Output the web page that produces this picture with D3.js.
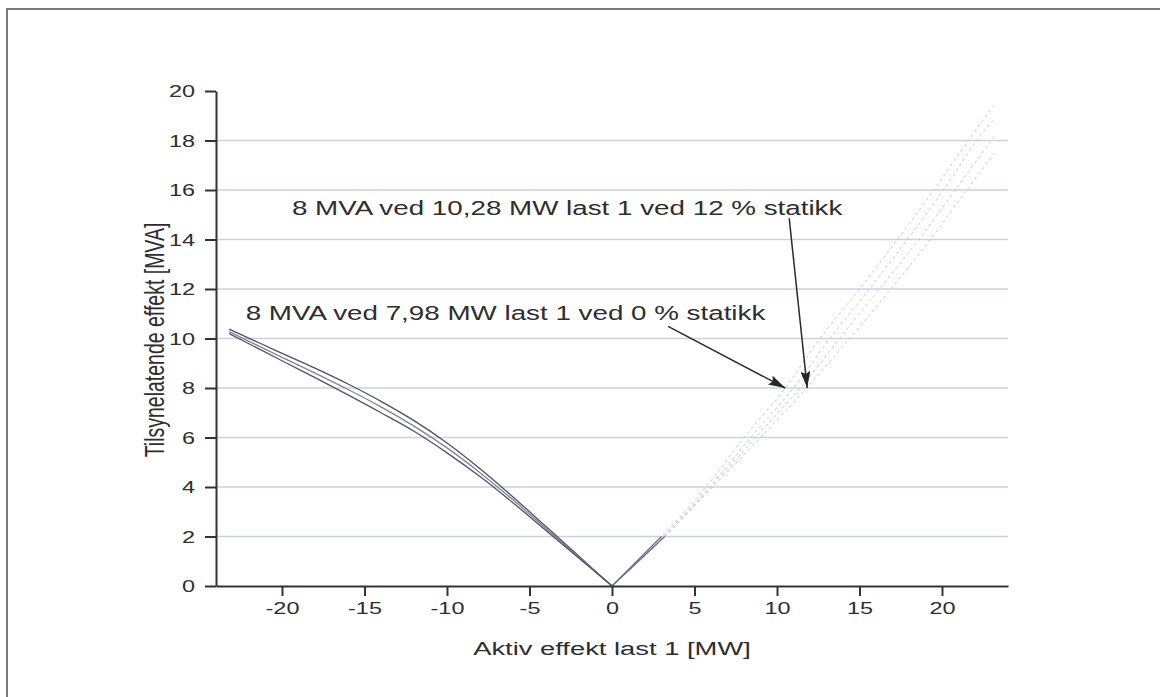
<!DOCTYPE html>
<html>
<head>
<meta charset="utf-8">
<script src="https://cdn.jsdelivr.net/npm/d3@7"></script>
<style>
  body { margin: 0; background: #fff; }
  text { font-family: "Liberation Sans", Arial, sans-serif; fill: #2e2e2e; }
</style>
</head>
<body>
<div id="chart"></div>
<script>
const width = 1160
const height = 697
const margin = {
  top: 91,
  bottom: 111,
  left: 216,
  right: 152,
}
// the scan is stretched sideways, the text has to follow
const stretch = 1.44

// Ejes
const xTicks = [-20, -15, -10, -5, 0, 5, 10, 15, 20]
const xMinor = [-22.5, -17.5, -12.5, -7.5, -2.5, 2.5, 7.5, 12.5, 17.5, 22.5]
const yTicks = [0, 2, 4, 6, 8, 10, 12, 14, 16, 18, 20]
const yMinor = [1, 3, 5, 7, 9, 11, 13, 15, 17, 19]
const xLabel = "Aktiv effekt last 1 [MW]"
const yLabel = "Tilsynelatende effekt [MVA]"

// negative load, three runs (solid)
const leftA = [[0, 0], [-2, 1.2], [-4, 2.4], [-6, 3.6], [-8, 4.74], [-10, 5.78], [-12, 6.68], [-14, 7.46], [-16, 8.16], [-18, 8.8], [-20, 9.4], [-23.2, 10.38]]
const leftB = [[0, 0], [-2, 1.16], [-4, 2.32], [-6, 3.48], [-8, 4.58], [-10, 5.58], [-12, 6.46], [-14, 7.24], [-16, 7.94], [-18, 8.6], [-20, 9.24], [-23.2, 10.28]]
const leftC = [[0, 0], [-2, 1.12], [-4, 2.24], [-6, 3.36], [-8, 4.42], [-10, 5.38], [-12, 6.25], [-14, 7.0], [-16, 7.72], [-18, 8.42], [-20, 9.1], [-23.2, 10.2]]

// positive load, four runs (faint)
const rightA = [[0, 0], [3.0, 2], [5.7, 4], [8.0, 6], [10.5, 8], [12.6, 10], [15.0, 12], [17.3, 14], [19.5, 16], [21.6, 18], [23.1, 19.4]]
const rightB = [[0, 0], [3.1, 2], [5.9, 4], [8.4, 6], [11.0, 8], [13.2, 10], [15.6, 12], [17.9, 14], [20.1, 16], [22.1, 18], [23.2, 18.9]]
const rightC = [[0, 0], [3.2, 2], [6.0, 4], [8.7, 6], [11.4, 8], [13.8, 10], [16.2, 12], [18.6, 14], [20.8, 16], [23.2, 18.2]]
const rightD = [[0, 0], [3.2, 2], [6.1, 4], [9.0, 6], [11.8, 8], [14.4, 10], [16.9, 12], [19.3, 14], [21.5, 16], [23.2, 17.5]]

// Anotaciones
const notes = ["8 MVA ved 10,28 MW last 1 ved 12 % statikk", "8 MVA ved 7,98 MW last 1 ved 0 % statikk"]
const noteAt = [[-19.4, 14.98], [-22.2, 10.74]]
const arrowFrom = [[10.74, 14.86], [3.4, 10.49]]
const arrowTo = [[11.83, 8.0], [10.5, 8.0]]

const svg = d3.select("#chart")
  .append("svg")
  .attr("width", width)
  .attr("height", height)

svg.append("defs").append("marker")
  .attr("id", "head")
  .attr("markerUnits", "userSpaceOnUse")
  .attr("viewBox", "0 -5 17 10")
  .attr("refX", 17)
  .attr("refY", 0)
  .attr("markerWidth", 17)
  .attr("markerHeight", 10)
  .attr("orient", "auto")
  .append("path")
  .attr("d", "M0,-5L17,0L0,5L3,0Z")
  .attr("fill", "#262626")

// marco del documento
svg.append("path")
  .attr("d", `M7,${height}V9H${width}`)
  .attr("fill", "none")
  .attr("stroke", "#7a7a7a")
  .attr("stroke-width", 2)

// Escalas
const x = d3.scaleLinear().domain([-24, 24]).range([margin.left, width - margin.right])
const y = d3.scaleLinear().domain([0, 20]).range([height - margin.bottom, margin.top])

// grid
svg.append("g").selectAll("line")
  .data(yTicks.filter(d => d > 0 && d < 20))
  .join("line")
  .attr("x1", x(-24))
  .attr("x2", x(24))
  .attr("y1", d => y(d))
  .attr("y2", d => y(d))
  .attr("stroke", "#cad1e3")
  .attr("stroke-width", 1.3)

const line = d3.line()
  .x(d => x(d[0]))
  .y(d => y(d[1]))
  .curve(d3.curveCatmullRom.alpha(0.5))

// faint branch
svg.append("g").selectAll("path")
  .data([rightA, rightB, rightC, rightD])
  .join("path")
  .attr("d", line)
  .attr("fill", "none")
  .attr("stroke", "#c6c9d4")
  .attr("stroke-width", 1)
  .attr("stroke-dasharray", "3,3")

// its first stretch is printed darker
svg.append("g").selectAll("path")
  .data([rightA, rightD].map(s => s.filter(d => d[1] <= 2)))
  .join("path")
  .attr("d", line)
  .attr("fill", "none")
  .attr("stroke", "#6a6e80")
  .attr("stroke-width", 1.2)

svg.append("g").selectAll("path")
  .data([leftA, leftB, leftC])
  .join("path")
  .attr("d", line)
  .attr("fill", "none")
  .attr("stroke", (d, i) => ["#4d5066", "#80849a", "#50546a"][i])
  .attr("stroke-width", 1.3)

// Ejes
const xAxisGroup = svg.append("g").attr("transform", `translate(0, ${y(0)})`)
xAxisGroup.call(d3.axisBottom(x).tickValues(xMinor).tickSize(6).tickFormat("").tickSizeOuter(0))
xAxisGroup.call(d3.axisBottom(x).tickValues(xTicks).tickSize(10).tickFormat(d => String(d)).tickSizeOuter(0))

const yAxisGroup = svg.append("g").attr("transform", `translate(${x(-24)}, 0)`)
yAxisGroup.call(d3.axisLeft(y).tickValues(yMinor).tickSize(6).tickFormat("").tickSizeOuter(0))
yAxisGroup.call(d3.axisLeft(y).tickValues(yTicks).tickSize(11).tickFormat(d => String(d)).tickSizeOuter(0))

svg.selectAll(".domain").attr("stroke", "#333").attr("stroke-width", 2)
svg.selectAll(".tick line").attr("stroke", "#333").attr("stroke-width", 2)

xAxisGroup.selectAll(".tick text")
  .attr("font-size", 16.3)
  .attr("y", 28)
  .attr("dy", 0)
  .attr("transform", `scale(${stretch}, 1)`)

yAxisGroup.selectAll(".tick text")
  .attr("font-size", 16.3)
  .attr("x", -21 / stretch)
  .attr("dy", "0.35em")
  .attr("transform", `scale(${stretch}, 1)`)

svg.selectAll(".tick text").attr("fill", "#2e2e2e").attr("font-family", null)

svg.append("text")
  .attr("transform", `translate(${x(0)}, 655) scale(${stretch}, 1)`)
  .attr("text-anchor", "middle")
  .attr("font-size", 19)
  .text(xLabel)

svg.append("text")
  .attr("transform", `translate(164, 340) scale(${stretch}, 1) rotate(-90)`)
  .attr("text-anchor", "middle")
  .attr("font-size", 19.5)
  .text(yLabel)

// Anotaciones
svg.append("g").selectAll("text")
  .data(notes)
  .join("text")
  .attr("transform", (d, i) => `translate(${x(noteAt[i][0])}, ${y(noteAt[i][1])}) scale(${stretch}, 1)`)
  .attr("font-size", 19.3)
  .attr("fill", "#262626")
  .text(d => d)

svg.append("g").selectAll("line")
  .data(arrowFrom)
  .join("line")
  .attr("x1", d => x(d[0]))
  .attr("y1", d => y(d[1]))
  .attr("x2", (d, i) => x(arrowTo[i][0]))
  .attr("y2", (d, i) => y(arrowTo[i][1]))
  .attr("stroke", "#2a2a2a")
  .attr("stroke-width", 1.5)
  .attr("marker-end", "url(#head)")
</script>
</body>
</html>
